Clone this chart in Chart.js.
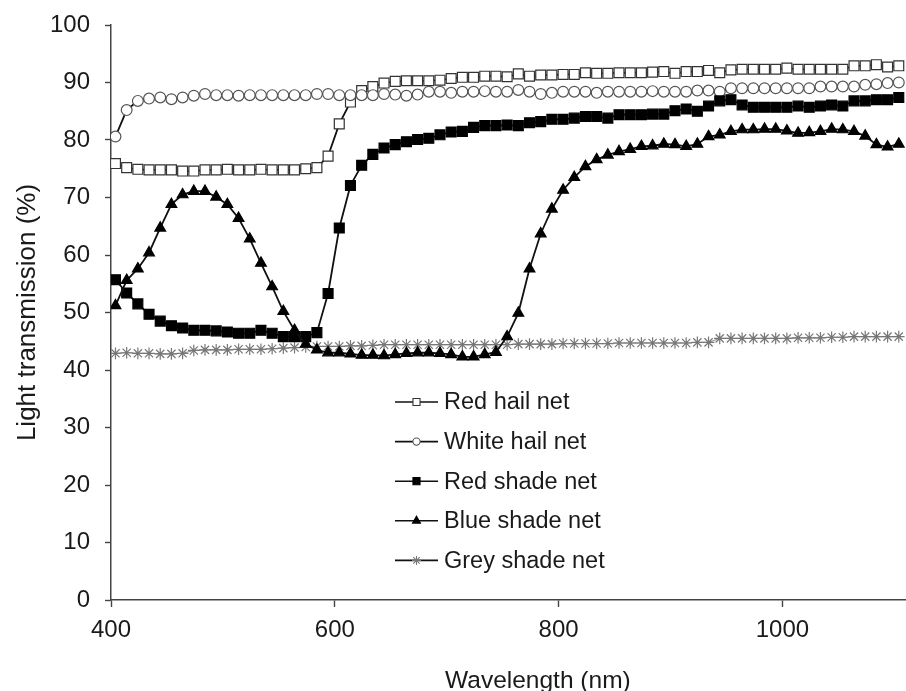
<!DOCTYPE html>
<html>
<head>
<meta charset="utf-8">
<script src="https://cdn.jsdelivr.net/npm/chart.js@4.4.1/dist/chart.umd.min.js"></script>
<style>
  html, body { margin: 0; padding: 0; background: #fff; overflow: hidden; }
  #frame { width: 906px; height: 691px; overflow: hidden; }
</style>
</head>
<body>
<!-- the source figure is cropped on the right, so the canvas runs past the frame -->
<div id="frame"><canvas id="specChart" width="973" height="691"></canvas></div>
<script>
// wavelength (nm), one reading every 10 nm
const wavelengths = [
  404, 414, 424, 434, 444, 454, 464, 474, 484, 494,
  504, 514, 524, 534, 544, 554, 564, 574, 584, 594,
  604, 614, 624, 634, 644, 654, 664, 674, 684, 694,
  704, 714, 724, 734, 744, 754, 764, 774, 784, 794,
  804, 814, 824, 834, 844, 854, 864, 874, 884, 894,
  904, 914, 924, 934, 944, 954, 964, 974, 984, 994,
  1004, 1014, 1024, 1034, 1044, 1054, 1064, 1074, 1084, 1094, 1104
];

const redHail = [
  75.9, 75.2, 74.9, 74.8, 74.8, 74.8, 74.6, 74.6, 74.8, 74.8,
  74.9, 74.8, 74.8, 74.9, 74.8, 74.8, 74.8, 75.0, 75.2, 77.2,
  82.8, 86.6, 88.6, 89.3, 89.9, 90.2, 90.3, 90.3, 90.3, 90.4,
  90.7, 90.9, 90.9, 91.1, 91.1, 91.0, 91.5, 91.1, 91.3, 91.3,
  91.4, 91.4, 91.7, 91.6, 91.6, 91.7, 91.7, 91.7, 91.8, 91.9,
  91.6, 91.9, 91.9, 92.1, 91.7, 92.2, 92.3, 92.3, 92.3, 92.3,
  92.5, 92.3, 92.3, 92.3, 92.3, 92.3, 92.9, 92.9, 93.1, 92.7, 92.9
];

const whiteHail = [
  80.6, 85.2, 86.8, 87.2, 87.4, 87.1, 87.4, 87.7, 88.0, 87.8,
  87.8, 87.7, 87.8, 87.8, 87.8, 87.8, 87.8, 87.8, 88.0, 88.0,
  87.8, 87.8, 87.8, 87.8, 88.0, 87.9, 87.7, 87.9, 88.4, 88.4,
  88.2, 88.4, 88.4, 88.5, 88.4, 88.4, 88.7, 88.4, 88.0, 88.2,
  88.4, 88.4, 88.4, 88.2, 88.4, 88.4, 88.4, 88.4, 88.5, 88.4,
  88.4, 88.4, 88.6, 88.6, 88.4, 89.0, 89.0, 89.0, 89.0, 89.0,
  89.0, 89.0, 89.0, 89.3, 89.3, 89.3, 89.3, 89.6, 89.7, 89.9, 90.0
];

const redShade = [
  55.7, 53.4, 51.5, 49.7, 48.5, 47.7, 47.3, 46.9, 46.9, 46.8,
  46.6, 46.4, 46.4, 46.9, 46.4, 45.8, 45.8, 45.8, 46.5, 53.3,
  64.7, 72.1, 75.6, 77.5, 78.6, 79.2, 79.7, 80.1, 80.3, 80.9,
  81.4, 81.5, 82.2, 82.5, 82.5, 82.6, 82.5, 83.0, 83.2, 83.6,
  83.6, 83.8, 84.1, 84.1, 83.8, 84.4, 84.4, 84.4, 84.5, 84.5,
  85.1, 85.4, 85.0, 85.9, 86.8, 87.0, 86.1, 85.7, 85.7, 85.7,
  85.7, 85.9, 85.7, 85.9, 86.1, 85.9, 86.8, 86.8, 87.0, 87.0, 87.4
];

const blueShade = [
  51.2, 55.6, 57.6, 60.4, 64.7, 68.8, 70.5, 71.1, 71.1, 70.1,
  68.8, 66.4, 62.8, 58.6, 54.5, 50.2, 46.9, 44.5, 43.5, 43.0,
  43.0, 42.8, 42.6, 42.6, 42.5, 42.7, 42.9, 43.0, 43.0, 42.9,
  42.7, 42.3, 42.3, 42.7, 43.1, 45.8, 49.9, 57.6, 63.7, 68.0,
  71.3, 73.5, 75.4, 76.6, 77.4, 78.0, 78.4, 78.9, 79.0, 79.3,
  79.2, 78.9, 79.3, 80.6, 80.9, 81.5, 81.8, 81.8, 81.9, 81.9,
  81.6, 81.2, 81.3, 81.5, 81.9, 81.8, 81.5, 80.7, 79.2, 78.8, 79.3
];

const greyShade = [
  42.9, 43.0, 42.9, 42.9, 42.8, 42.8, 42.9, 43.4, 43.5, 43.5,
  43.5, 43.6, 43.6, 43.6, 43.7, 43.8, 43.9, 44.0, 44.1, 44.1,
  44.1, 44.2, 44.2, 44.3, 44.4, 44.4, 44.4, 44.4, 44.4, 44.4,
  44.4, 44.4, 44.4, 44.4, 44.4, 44.4, 44.5, 44.5, 44.5, 44.5,
  44.6, 44.6, 44.6, 44.6, 44.6, 44.7, 44.7, 44.7, 44.7, 44.7,
  44.7, 44.7, 44.8, 44.8, 45.5, 45.5, 45.5, 45.5, 45.5, 45.5,
  45.5, 45.6, 45.6, 45.6, 45.7, 45.7, 45.8, 45.8, 45.8, 45.8, 45.8
];

const seriesLabels = ['Red hail net', 'White hail net', 'Red shade net', 'Blue shade net', 'Grey shade net'];
const xTicks = [400, 600, 800, 1000];

const FONT = '"Liberation Sans", Arial, sans-serif';
Chart.defaults.font.family = FONT;
Chart.defaults.color = '#1a1a1a';

function pts(values) {
  return values.map((v, i) => ({ x: wavelengths[i], y: v }));
}

function series(label, values, style) {
  return Object.assign({
    label: label,
    data: pts(values),
    borderColor: '#111',
    borderWidth: 1.8,
    pointBorderWidth: 1.2,
    tension: 0
  }, style);
}

const datasets = [
  series(seriesLabels[3], blueShade, { pointStyle: 'triangle', pointRadius: 6.2, pointBackgroundColor: '#000', pointBorderColor: '#000', legendRadius: 4.6 }),
  series(seriesLabels[2], redShade, { pointStyle: 'rect', pointRadius: 7, pointBackgroundColor: '#000', pointBorderColor: '#000', legendRadius: 5 }),
  series(seriesLabels[4], greyShade, { pointStyle: 'star', pointRadius: 5.8, pointBackgroundColor: '#808080', pointBorderColor: '#777', borderColor: '#888', borderWidth: 1, legendRadius: 4.5 }),
  series(seriesLabels[1], whiteHail, { pointStyle: 'circle', pointRadius: 5.4, pointBackgroundColor: '#fff', pointBorderColor: '#555', legendRadius: 3.6 }),
  series(seriesLabels[0], redHail, { pointStyle: 'rect', pointRadius: 7, pointBackgroundColor: '#fff', pointBorderColor: '#333', legendRadius: 5 })
];

// legend sits inside the plot, drawn by hand
const insideLegend = {
  id: 'insideLegend',
  afterDraw(chart) {
    const ctx = chart.ctx;
    ctx.save();
    seriesLabels.forEach((label, i) => {
      const ds = chart.data.datasets.find(d => d.label === label);
      const y = 402 + i * 39.6;
      ctx.strokeStyle = '#111';
      ctx.lineWidth = 1.6;
      ctx.beginPath();
      ctx.moveTo(395, y);
      ctx.lineTo(438, y);
      ctx.stroke();
      ctx.fillStyle = ds.pointBackgroundColor;
      ctx.strokeStyle = ds.pointBorderColor;
      ctx.lineWidth = 1.1;
      Chart.helpers.drawPoint(ctx, { pointStyle: ds.pointStyle, radius: ds.legendRadius, borderWidth: 1.1, rotation: 0 }, 416.5, y);
      ctx.fillStyle = '#1a1a1a';
      ctx.font = '23.5px ' + FONT;
      ctx.textBaseline = 'middle';
      ctx.textAlign = 'left';
      ctx.fillText(label, 444, y + 1);
    });
    ctx.restore();
  }
};

new Chart(document.getElementById('specChart'), {
  type: 'line',
  data: { datasets: datasets },
  options: {
    responsive: false,
    devicePixelRatio: 1,
    animation: false,
    layout: { padding: { top: 25, right: 0, bottom: 0, left: 0 } },
    plugins: { legend: { display: false }, tooltip: { enabled: false } },
    scales: {
      x: {
        type: 'linear',
        min: 400,
        max: 1163,
        afterFit: s => { s.height = 91; s.paddingLeft = 0; s.paddingRight = 0; },
        afterBuildTicks: s => { s.ticks = xTicks.map(v => ({ value: v })); },
        ticks: { font: { size: 24 }, padding: 9, maxRotation: 0, callback: v => String(v) },
        grid: { drawOnChartArea: false, tickLength: 7, tickColor: '#444', tickWidth: 1.4 },
        border: { color: '#444', width: 1.5 },
        title: { display: true, text: 'Wavelength (nm)', font: { size: 24.5 }, padding: { top: 0, bottom: -5 } }
      },
      y: {
        min: 0,
        max: 100,
        afterFit: s => { s.width = 111; s.paddingTop = 0; s.paddingBottom = 0; },
        ticks: { stepSize: 10, font: { size: 24 }, padding: 15, callback: v => String(v) },
        grid: { drawOnChartArea: false, tickLength: 6, tickColor: '#444', tickWidth: 1.4 },
        border: { color: '#444', width: 1.5 },
        title: { display: true, text: 'Light transmission (%)', font: { size: 26 }, padding: { top: 12, bottom: 0 } }
      }
    }
  },
  plugins: [insideLegend]
});
</script>
</body>
</html>
